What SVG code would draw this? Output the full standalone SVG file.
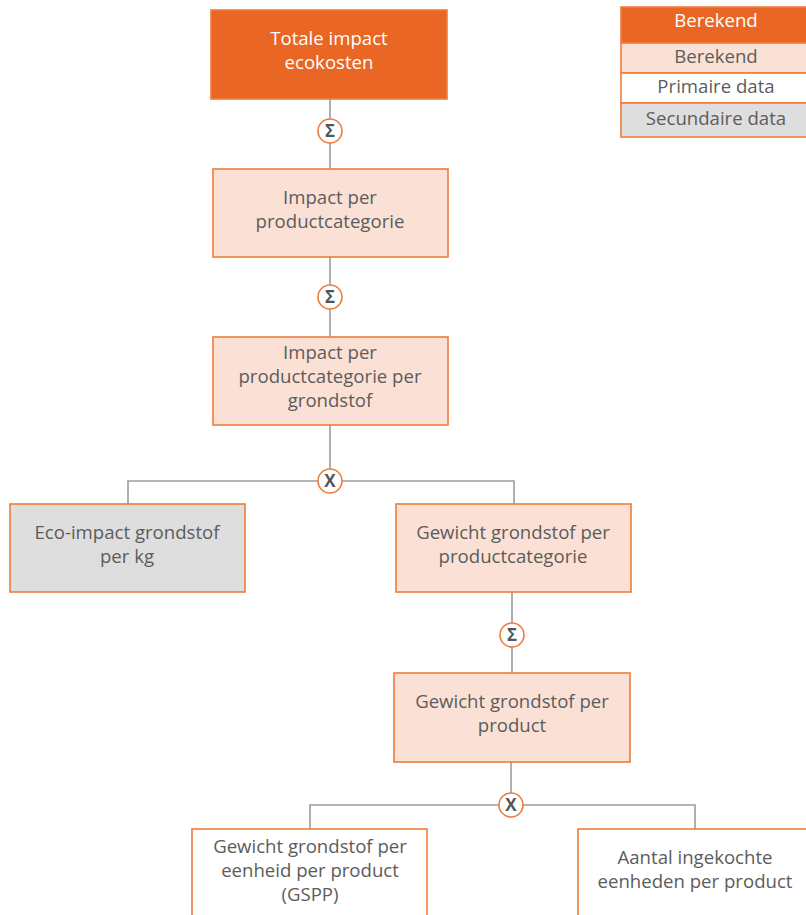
<svg xmlns="http://www.w3.org/2000/svg" width="806" height="915" viewBox="0 0 806 915">
<style>
.box{stroke:#EE7D3E;stroke-width:1.6}
.calc{fill:#FBE1D5}
.prim{fill:#FFFFFF}
.sec{fill:#DEDEDE}
.top{fill:#EA6625}
text{font-family:"Open Sans","Noto Sans",sans-serif;font-size:18.6px;text-anchor:middle;fill:#5C5C5C}
.w{fill:#FFFFFF}
.conn line,.conn polyline{stroke:#9C9C9C;stroke-width:1.6;fill:none}
.op circle{fill:#FFFFFF;stroke:#EE7D3E;stroke-width:1.6}
.op text{font-weight:bold;font-size:17px;fill:#555555}
</style>
<rect width="806" height="915" fill="#FFFFFF"/>
<g id="connectors" class="conn">
<line x1="330" y1="99" x2="330" y2="169"/>
<line x1="330" y1="257" x2="330" y2="337"/>
<line x1="330" y1="425" x2="330" y2="481"/>
<polyline points="128,504 128,481 514,481 514,504"/>
<line x1="512" y1="592" x2="512" y2="673"/>
<line x1="511" y1="762" x2="511" y2="805"/>
<polyline points="310,829 310,805 695,805 695,829"/>
</g>
<g id="n_total"><rect class="box top" x="211" y="10" width="236" height="89"/><text class="w" x="329" y="45">Totale impact</text><text class="w" x="329" y="69">ecokosten</text></g>
<g id="n_cat"><rect class="box calc" x="213" y="169" width="235" height="88"/><text x="330" y="204">Impact per</text><text x="330" y="228">productcategorie</text></g>
<g id="n_catgr"><rect class="box calc" x="213" y="337" width="235" height="88"/><text x="330" y="359">Impact per</text><text x="330" y="383">productcategorie per</text><text x="330" y="407">grondstof</text></g>
<g id="n_eco"><rect class="box sec" x="10" y="504" width="235" height="88"/><text x="127" y="539">Eco-impact grondstof</text><text x="127" y="563">per kg</text></g>
<g id="n_gewcat"><rect class="box calc" x="396" y="504" width="235" height="88"/><text x="513" y="539">Gewicht grondstof per</text><text x="513" y="563">productcategorie</text></g>
<g id="n_gewprod"><rect class="box calc" x="394" y="673" width="236" height="89"/><text x="512" y="708">Gewicht grondstof per</text><text x="512" y="732">product</text></g>
<g id="n_gspp"><rect class="box prim" x="192" y="829" width="235" height="95"/><text x="310" y="853">Gewicht grondstof per</text><text x="310" y="877">eenheid per product</text><text x="310" y="901">(GSPP)</text></g>
<g id="n_aantal"><rect class="box prim" x="578" y="829" width="235" height="95"/><text x="695" y="864">Aantal ingekochte</text><text x="695" y="888">eenheden per product</text></g>
<g id="op1" class="op"><circle cx="330" cy="131" r="12"/><text x="330" y="137">Σ</text></g>
<g id="op2" class="op"><circle cx="330" cy="297" r="12"/><text x="330" y="303">Σ</text></g>
<g id="op3" class="op"><circle cx="330" cy="481" r="12"/><text x="330" y="487">X</text></g>
<g id="op4" class="op"><circle cx="512" cy="635" r="12"/><text x="512" y="641">Σ</text></g>
<g id="op5" class="op"><circle cx="511" cy="805" r="12"/><text x="511" y="811">X</text></g>
<g id="legend">
<rect class="box top" x="621" y="7" width="195" height="36"/>
<rect class="box calc" x="621" y="43" width="195" height="30"/>
<rect class="box prim" x="621" y="73" width="195" height="30"/>
<rect class="box sec" x="621" y="103" width="195" height="34"/>
<text class="w" x="716" y="27">Berekend</text>
<text x="716" y="63">Berekend</text>
<text x="716" y="93">Primaire data</text>
<text x="716" y="125">Secundaire data</text>
</g>
</svg>
